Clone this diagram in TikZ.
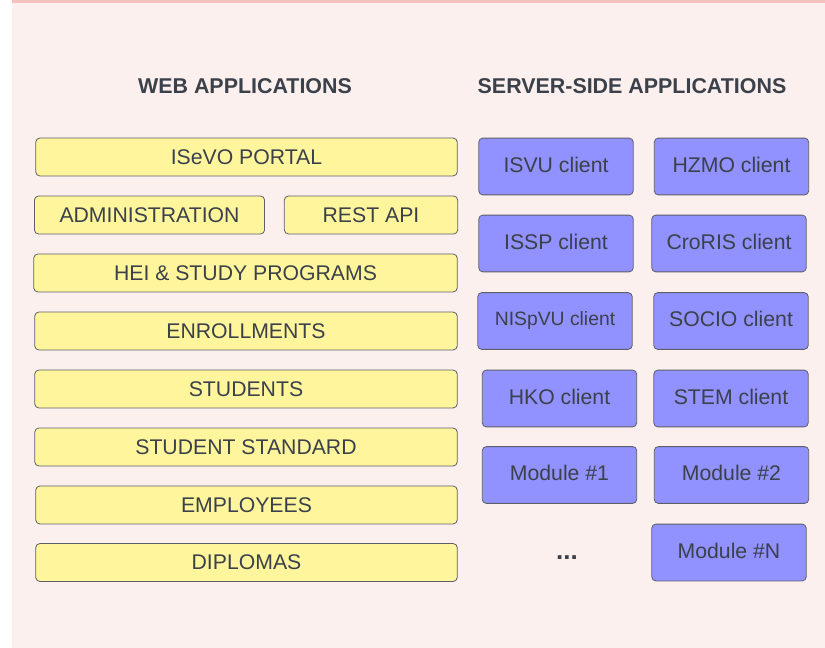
\documentclass[tikz,border=0pt]{standalone}
\usepackage{fontspec}
\setmainfont{Liberation Sans}
\definecolor{pagebg}{HTML}{FCF0EF}
\definecolor{topband}{HTML}{F5C2BF}
\definecolor{webfill}{HTML}{FFF59C}
\definecolor{srvfill}{HTML}{9191FF}
\definecolor{boxline}{HTML}{5C5E68}
\definecolor{inkgray}{HTML}{3B414A}

\tikzstyle{title} = [font=\bfseries\fontsize{21.5}{24}\selectfont, text=inkgray]
\tikzstyle{webbox} = [draw=boxline, fill=webfill, rounded corners=4, line width=0.8pt, minimum height=38, inner sep=0pt, font=\fontsize{21.3}{24}\selectfont, text=inkgray]
\tikzstyle{srvbox} = [draw=boxline, fill=srvfill, rounded corners=4, line width=0.8pt, minimum width=155, minimum height=57, inner sep=0pt, font=\fontsize{21.3}{24}\selectfont, text=inkgray]

\begin{document}
\begin{tikzpicture}[x=1bp, y=-1bp]
  \useasboundingbox (0,0) rectangle (825,648);
  \fill[white] (0,0) rectangle (825,648);
  \fill[pagebg] (12,0) rectangle (825,648);
  \fill[topband] (12,0) rectangle (825,3);

  % titles
  \node[title] (webtitle) at (245,86.5) {WEB APPLICATIONS};
  \node[title] (srvtitle) at (632,86.5) {SERVER-SIDE APPLICATIONS};

  % web applications
  \foreach \nodename/\label/\x/\y/\w in {
    portal/ISeVO PORTAL/246.5/157/423,
    admin/ADMINISTRATION/149.5/215/231,
    rest/REST API/371/215/174,
    hei/HEI \& STUDY PROGRAMS/245.5/273/425,
    enroll/ENROLLMENTS/246/331/424,
    students/STUDENTS/246/389/424,
    standard/STUDENT STANDARD/246/447/424,
    employees/EMPLOYEES/246.5/505/423,
    diplomas/DIPLOMAS/246.5/562.5/423}
  {
    \node[webbox, minimum width=\w] (\nodename) at (\x,\y) {\raisebox{-2bp}{\label}};
  }

  % server-side applications
  \foreach \nodename/\label/\x/\y in {
    isvu/ISVU client/556/166.5,
    hzmo/HZMO client/731.5/166.5,
    issp/ISSP client/556/243.5,
    croris/CroRIS client/729/243.5,
    socio/SOCIO client/731/321,
    hko/HKO client/559.5/398.5,
    stem/STEM client/731/398.5,
    modone/Module \#1/559.5/475,
    modtwo/Module \#2/731.5/475,
    modn/Module \#N/729/552.5}
  {
    \node[srvbox] (\nodename) at (\x,\y) {\raisebox{4bp}{\label}};
  }
  \node[srvbox, font=\fontsize{19.4}{22}\selectfont] (nispvu) at (555,321) {NISpVU client};

  \node[font=\bfseries\fontsize{26}{28}\selectfont, text=inkgray] (dots) at (567,558) {...};
\end{tikzpicture}
\end{document}
